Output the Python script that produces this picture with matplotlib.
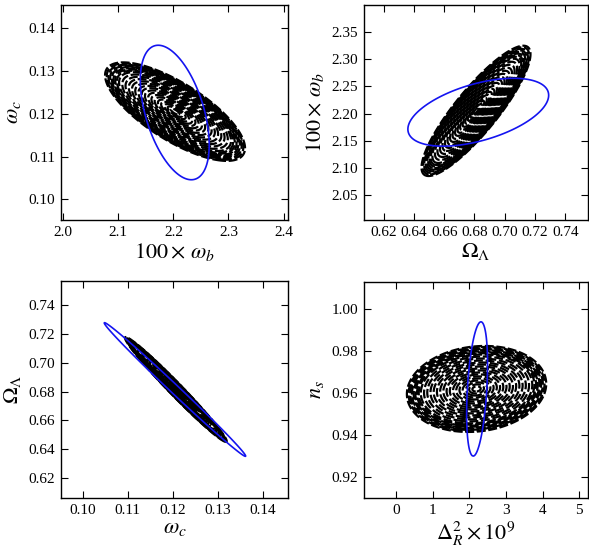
import numpy as np
import matplotlib
matplotlib.use("Agg")
import matplotlib.pyplot as plt

plt.rcParams['font.family'] = ['Liberation Serif', 'DejaVu Serif']
plt.rcParams['mathtext.fontset'] = 'stix'

# panel labels
x_labels = [r'$100\times\,\omega_b$', r'$\Omega_\Lambda$', r'$\omega_c$', r'$\Delta_R^2\times10^9$']
y_labels = [r'$\omega_c$', r'$100\times\,\omega_b$', r'$\Omega_\Lambda$', r'$n_s$']

# axis ranges
x_lims = [(1.996, 2.408), (0.607, 0.755), (0.0952, 0.1456), (-0.87, 5.24)]
y_lims = [(0.0952, 0.1454), (2.004, 2.40), (0.606, 0.757), (0.910, 1.013)]
x_ticks = [[2.0, 2.1, 2.2, 2.3, 2.4],
           [0.62, 0.64, 0.66, 0.68, 0.70, 0.72, 0.74],
           [0.10, 0.11, 0.12, 0.13, 0.14],
           [0, 1, 2, 3, 4, 5]]
y_ticks = [[0.10, 0.11, 0.12, 0.13, 0.14],
           [2.05, 2.10, 2.15, 2.20, 2.25, 2.30, 2.35],
           [0.62, 0.64, 0.66, 0.68, 0.70, 0.72, 0.74],
           [0.92, 0.94, 0.96, 0.98, 1.00]]
x_fmt = ['%.1f', '%.2f', '%.2f', '%d']
y_fmt = ['%.2f', '%.2f', '%.2f', '%.2f']

# black (dashed, nested) ellipse families: panel, centre, outer half-extent, correlation
black_panel = [0, 1, 2, 3]
black_cx = [2.203, 0.681, 0.1207, 2.2]
black_cy = [0.1205, 2.205, 0.6815, 0.962]
black_hx = [0.127, 0.036, 0.0113, 1.9]
black_hy = [0.0115, 0.120, 0.0365, 0.0205]
black_rho = [-0.74, 0.87, -0.985, 0.12]

# blue ellipse: centre, half-extent, correlation (one per panel)
blue_cx = [2.2025, 0.6825, 0.1205, 2.215]
blue_cy = [0.1203, 2.2025, 0.6815, 0.962]
blue_hx = [0.0625, 0.0465, 0.0157, 0.285]
blue_hy = [0.0157, 0.0625, 0.0465, 0.032]
blue_rho = [-0.48, 0.50, -0.996, 0.37]

positions = [
    [61/589, 1-220/548, 227/589, 215/548],
    [364/589, 1-220/548, 224/589, 215/548],
    [61/589, 1-498/548, 227/589, 217/548],
    [364/589, 1-498/548, 224/589, 216/548],
]

fig = plt.figure(figsize=(5.89, 5.48), dpi=100)


def chi_grid(xl, yl, cx, cy, hx, hy, rho, n=500):
    x = np.linspace(xl[0], xl[1], n)
    y = np.linspace(yl[0], yl[1], n)
    X, Y = np.meshgrid(x, y)
    u = (X - cx) / hx
    v = (Y - cy) / hy
    q = (u*u - 2*rho*u*v + v*v) / (1 - rho*rho)
    return X, Y, np.sqrt(q)


axes = []
for i in range(4):
    ax = fig.add_axes(positions[i])
    axes.append(ax)
    ax.set_xlim(*x_lims[i])
    ax.set_ylim(*y_lims[i])

for k in range(len(black_panel)):
    i = black_panel[k]
    ax = axes[i]
    X, Y, r = chi_grid(x_lims[i], y_lims[i], black_cx[k], black_cy[k],
                       black_hx[k], black_hy[k], black_rho[k])
    levels = np.concatenate([np.linspace(0.06, 0.8, 17), np.linspace(0.83, 1.0, 8)])
    cs = ax.contour(X, Y, r, levels=levels, colors='black',
                    linewidths=1.6)
    cs.set_linestyle((0, (4.0, 1.2)))

for i in range(4):
    ax = axes[i]
    xl, yl = x_lims[i], y_lims[i]
    X, Y, r = chi_grid(xl, yl, blue_cx[i], blue_cy[i], blue_hx[i], blue_hy[i], blue_rho[i], n=900)
    ax.contour(X, Y, r, levels=[1.0], colors='#1414f0', linewidths=1.2)
    ax.set_xlim(*xl)
    ax.set_ylim(*yl)
    ax.set_xticks(x_ticks[i])
    ax.set_yticks(y_ticks[i])
    ax.set_xticklabels([x_fmt[i] % t for t in x_ticks[i]])
    ax.set_yticklabels([y_fmt[i] % t for t in y_ticks[i]])
    ax.tick_params(direction='in', top=True, right=True, labelsize=11,
                   length=5, width=0.8, pad=4)
    for s in ax.spines.values():
        s.set_linewidth(1.0)
    ax.set_xlabel(x_labels[i], fontsize=16, labelpad=2)
    ax.set_ylabel(y_labels[i], fontsize=16, labelpad=4)

fig.savefig('out.png', dpi=100)
